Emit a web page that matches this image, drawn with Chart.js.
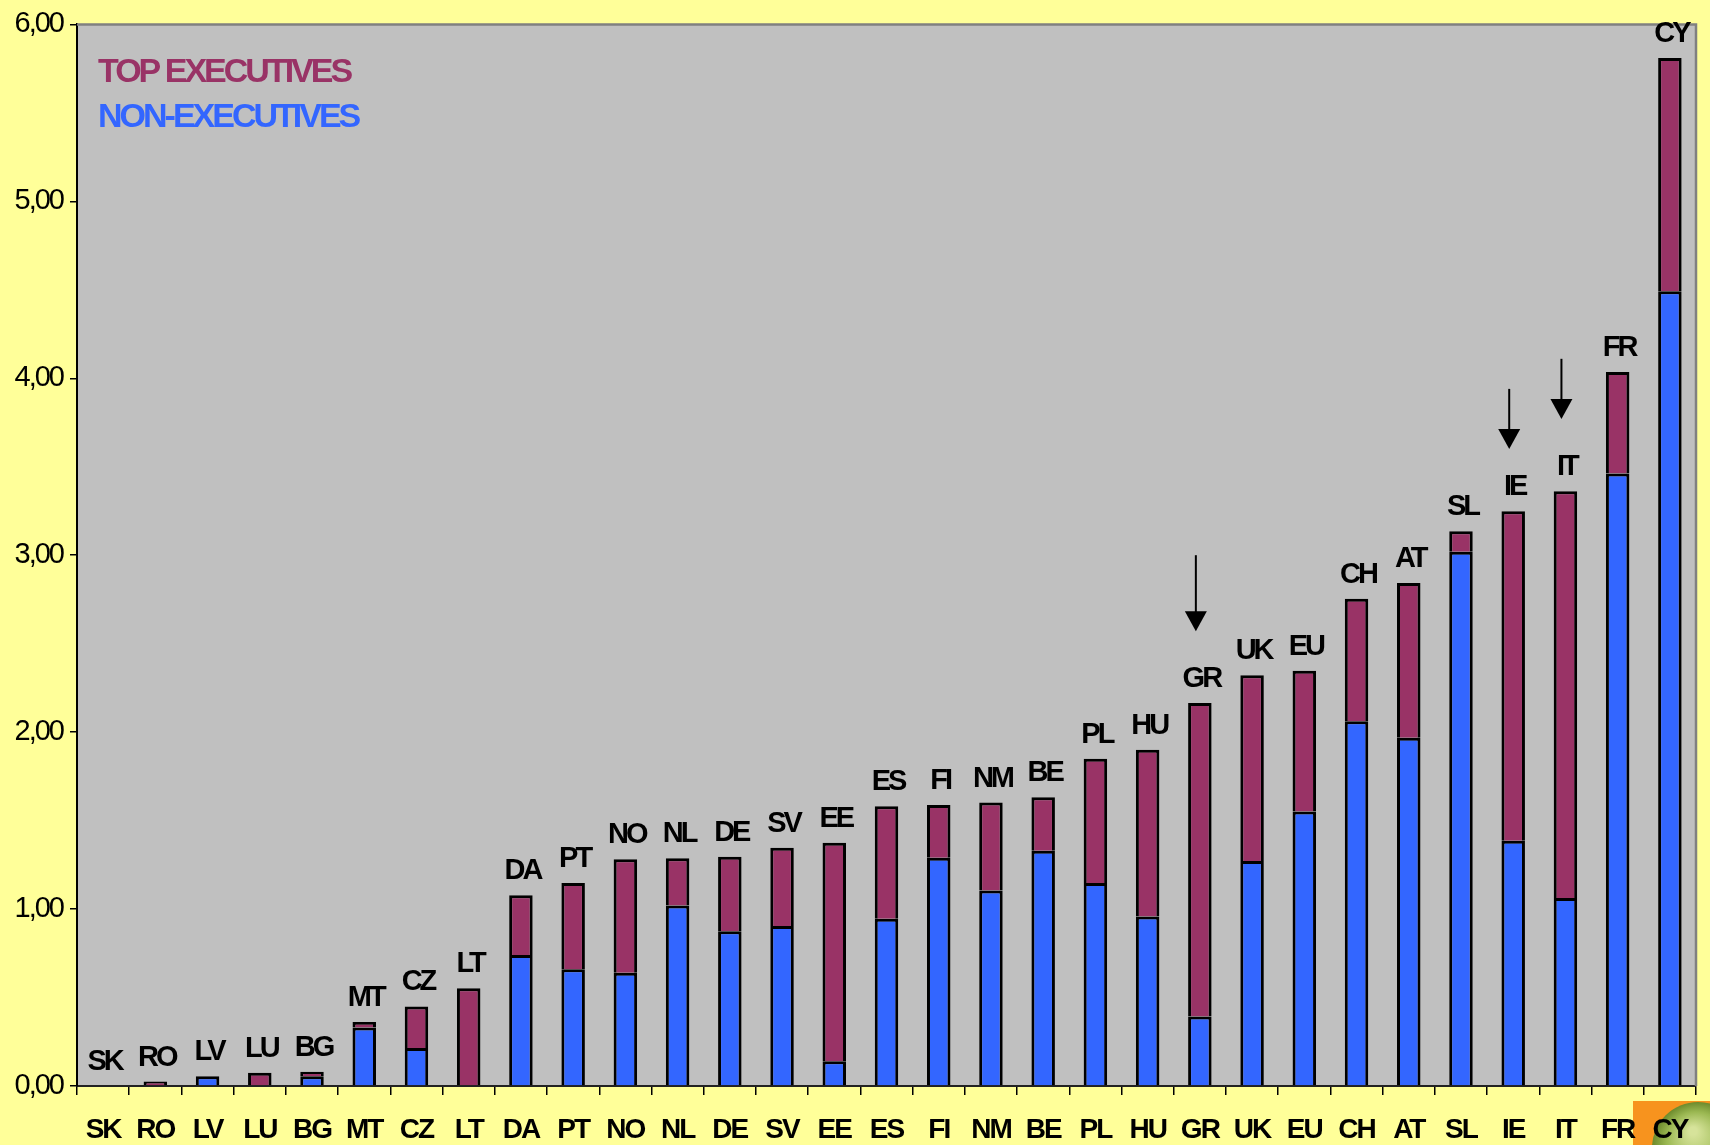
<!DOCTYPE html>
<html>
<head>
<meta charset="utf-8">
<script src="https://cdn.jsdelivr.net/npm/chart.js@4.4.0/dist/chart.umd.min.js"></script>
<style>
  html, body { margin: 0; padding: 0; background: #ffff99; }
  canvas { display: block; }
</style>
</head>
<body>
<canvas id="boardChart" width="1710" height="1145"></canvas>
<script>
const countries = ["SK", "RO", "LV", "LU", "BG", "MT", "CZ", "LT", "DA", "PT", "NO", "NL", "DE", "SV", "EE", "ES",
  "FI", "NM", "BE", "PL", "HU", "GR", "UK", "EU", "CH", "AT", "SL", "IE", "IT", "FR", "CY"];

const nonExecutives = [0, 0, 0.055, 0, 0.055, 0.33, 0.215, 0, 0.74, 0.66, 0.64, 1.02, 0.875, 0.905, 0.14, 0.945,
  1.29, 1.105, 1.33, 1.148, 0.958, 0.393, 1.272, 1.552, 2.062, 1.968, 3.02, 1.386, 1.063, 3.462, 4.492];

const topExecutives = [0, 0.025, 0, 0.075, 0.025, 0.032, 0.235, 0.553, 0.338, 0.488, 0.641, 0.267, 0.421, 0.441, 1.235, 0.636,
  0.298, 0.497, 0.302, 0.702, 0.942, 1.772, 1.05, 0.795, 0.692, 0.875, 0.116, 1.862, 2.299, 0.573, 1.318];

const yTickLabels = ["0,00", "1,00", "2,00", "3,00", "4,00", "5,00", "6,00"];

// arrows pointing down at some countries (value where shaft starts, value at the tip)
const arrowCountries = ["GR", "IE", "IT"];
const arrowFrom = [3.0, 3.94, 4.11];
const arrowTo = [2.57, 3.6, 3.77];

const PLUM = "#993366";
const BLUE = "#3366ff";
const FONT = "'Liberation Sans', Arial, sans-serif";

const backdrop = {
  id: "backdrop",
  beforeDraw(chart) {
    const { ctx, chartArea: a } = chart;
    ctx.save();
    ctx.fillStyle = "#ffff99";
    ctx.fillRect(0, 0, chart.width, chart.height);
    ctx.fillStyle = "#c0c0c0";
    ctx.fillRect(a.left, a.top, a.right - a.left, a.bottom - a.top);

    // little picture in the bottom right corner
    const px = chart.width - 77, py = a.bottom + 15;
    ctx.fillStyle = "#f7931e";
    ctx.fillRect(px, py, chart.width - px, chart.height - py);
    ctx.beginPath();
    ctx.rect(px, py, chart.width - px, chart.height - py);
    ctx.clip();
    const g = ctx.createRadialGradient(px + 60, py + 30, 4, px + 65, py + 47, 46);
    g.addColorStop(0, "#d6e39a");
    g.addColorStop(0.6, "#9bb852");
    g.addColorStop(1, "#6c8a2c");
    ctx.fillStyle = g;
    ctx.beginPath();
    ctx.arc(px + 65, py + 47, 46, 0, Math.PI * 2);
    ctx.fill();
    ctx.restore();

    ctx.letterSpacing = "-2px";
  },
};

const overlay = {
  id: "overlay",
  afterDatasetsDraw(chart) {
    const { ctx, chartArea: a } = chart;
    const xs = chart.scales.x;
    const ys = chart.scales.y;

    ctx.save();
    // grey frame on top and right
    ctx.strokeStyle = "#808080";
    ctx.lineWidth = 2.5;
    ctx.beginPath();
    ctx.moveTo(a.left, a.top);
    ctx.lineTo(a.right, a.top);
    ctx.lineTo(a.right, a.bottom);
    ctx.stroke();

    // country names above the bars
    ctx.letterSpacing = "-3px";
    ctx.fillStyle = "#000";
    ctx.font = "bold 29px " + FONT;
    ctx.textAlign = "center";
    ctx.textBaseline = "alphabetic";
    const top = chart.getDatasetMeta(1).data;
    countries.forEach((c, i) => {
      ctx.fillText(c, top[i].x + 1.5, top[i].y - 16);
    });

    // series names
    ctx.font = "bold 34px " + FONT;
    ctx.textAlign = "left";
    const ds = chart.data.datasets;
    [ds[1], ds[0]].forEach((d, i) => {
      ctx.fillStyle = d.backgroundColor;
      ctx.fillText(d.label, a.left + 21, a.top + 58 + i * 45);
    });

    // arrows
    ctx.fillStyle = "#000";
    ctx.strokeStyle = "#000";
    ctx.lineWidth = 2;
    arrowCountries.forEach((c, i) => {
      const x = xs.getPixelForValue(countries.indexOf(c)) - 4;
      const y0 = ys.getPixelForValue(arrowFrom[i]);
      const y1 = ys.getPixelForValue(arrowTo[i]);
      ctx.beginPath();
      ctx.moveTo(x, y0);
      ctx.lineTo(x, y1 - 18);
      ctx.stroke();
      ctx.beginPath();
      ctx.moveTo(x - 11, y1 - 20);
      ctx.lineTo(x + 11, y1 - 20);
      ctx.lineTo(x, y1);
      ctx.closePath();
      ctx.fill();
    });
    ctx.restore();
  },
};

new Chart(document.getElementById("boardChart"), {
  type: "bar",
  data: {
    labels: countries,
    datasets: [
      {
        label: "NON-EXECUTIVES",
        data: nonExecutives,
        backgroundColor: BLUE,
      },
      {
        label: "TOP EXECUTIVES",
        data: topExecutives,
        backgroundColor: PLUM,
      },
    ],
  },
  options: {
    responsive: false,
    devicePixelRatio: 1,
    animation: false,
    events: [],
    layout: { padding: { top: 19, right: 14, left: 0, bottom: 0 } },
    datasets: {
      bar: {
        barPercentage: 0.45,
        categoryPercentage: 1,
        borderColor: "#000",
        borderWidth: (c) => (c.raw ? 3 : 0),
        borderSkipped: "start",
      },
    },
    plugins: {
      legend: { display: false },
      tooltip: { enabled: false },
    },
    scales: {
      x: {
        stacked: true,
        grid: { drawOnChartArea: false, tickLength: 9, color: "#000", lineWidth: 1.5 },
        border: { color: "#222", width: 2 },
        ticks: {
          color: "#000",
          font: { family: FONT, size: 28, weight: "bold" },
          padding: 18,
          autoSkip: false,
          maxRotation: 0,
        },
        afterFit: (s) => { s.height = 59; },
      },
      y: {
        stacked: true,
        min: 0,
        max: 6,
        grid: { drawOnChartArea: false, tickLength: 7, color: "#000", lineWidth: 1.5 },
        border: { color: "#000", width: 2 },
        ticks: {
          stepSize: 1,
          color: "#000",
          font: { family: FONT, size: 29 },
          padding: 7,
          callback: (v, i) => yTickLabels[i],
        },
        afterFit: (s) => { s.width = 77; },
      },
    },
  },
  plugins: [backdrop, overlay],
});
</script>
</body>
</html>
